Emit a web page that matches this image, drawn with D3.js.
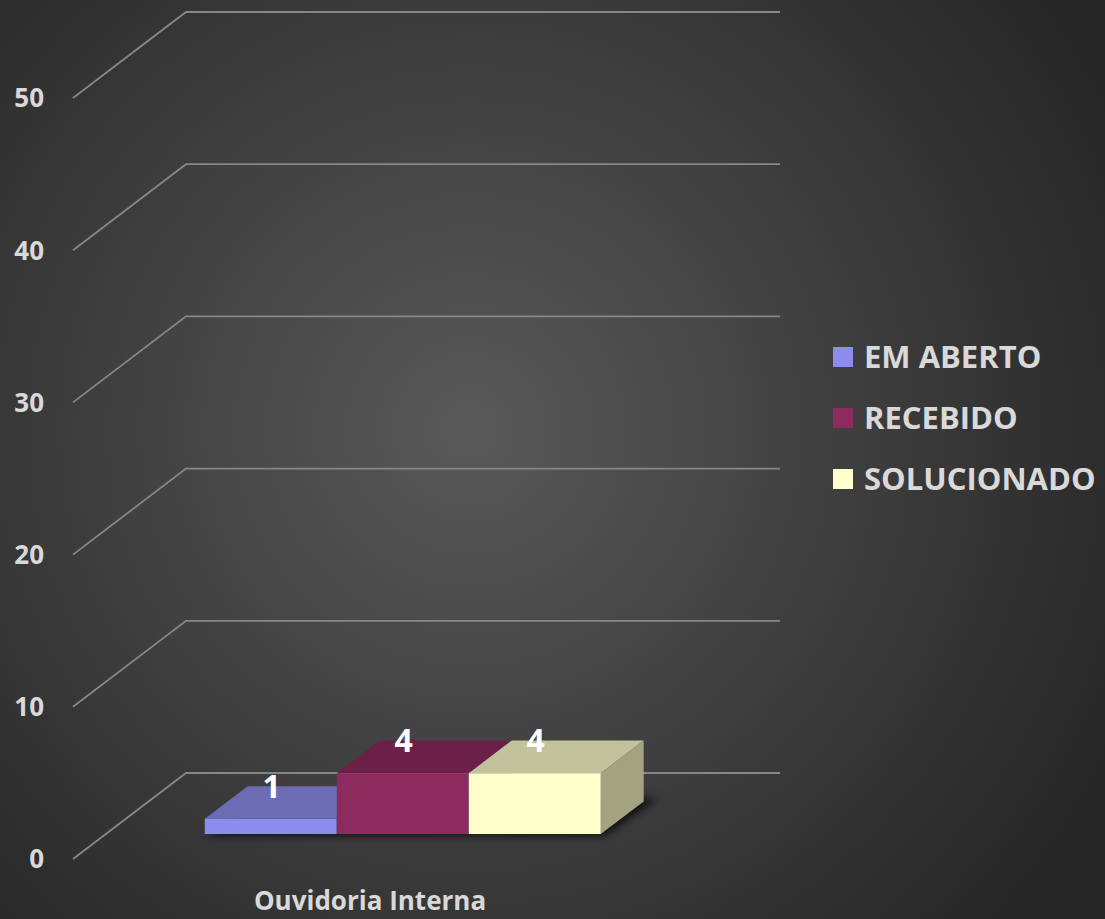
<!DOCTYPE html>
<html><head><meta charset="utf-8">
<script src="https://cdn.jsdelivr.net/npm/d3@7"></script>
<style>html,body{margin:0;padding:0;background:#333;}svg{display:block;}</style>
</head><body>
<svg id="chart" width="1105" height="919"></svg>
<script>
const categories = ["Ouvidoria Interna"];
const seriesNames = ["EM ABERTO", "RECEBIDO", "SOLUCIONADO"];
const seriesValues = [[1], [4], [4]];
const yTicks = [0, 10, 20, 30, 40, 50];
const seriesColors = [
  {front:"#8c8cee", top:"#6c6cb4", side:"#6a6aa8"},
  {front:"#8e2b5e", top:"#6c2048", side:"#5e1c40"},
  {front:"#ffffcc", top:"#c2c29c", side:"#a3a382"}
];

const W = 1105, H = 919;
const svg = d3.select("#chart");
const defs = svg.append("defs");
const rg = defs.append("radialGradient").attr("id","bg")
  .attr("gradientUnits","userSpaceOnUse").attr("cx",470).attr("cy",430).attr("r",720);
rg.append("stop").attr("offset","0").attr("stop-color","#595959");
rg.append("stop").attr("offset","1").attr("stop-color","#262626");
svg.append("rect").attr("width",W).attr("height",H).attr("fill","url(#bg)");
const blur = defs.append("filter").attr("id","blur").attr("x","-20%").attr("y","-50%").attr("width","140%").attr("height","200%");
blur.append("feGaussianBlur").attr("stdDeviation",4);

// 3D projection parameters
const depthDX = 113, depthDY = -86;
const plotLeft = 73, plotRight = 667;
const y = d3.scaleLinear().domain([0,50]).range([859,98]);
const x = d3.scaleBand().domain(categories).range([plotLeft, plotRight]).paddingInner(0).paddingOuter(0.25);
const xs = d3.scaleBand().domain(seriesNames).range([0, x.bandwidth()]).padding(0);
const P = (px, v, z) => [px + z*depthDX, y(v) + z*depthDY];
const z0 = 0.29, z1 = 0.67;

// gridlines: side wall diagonal + back wall horizontal
const gridColor = "#878787";
yTicks.forEach(t => {
  const a = P(plotLeft, t, 0), b = P(plotLeft, t, 1), c = P(plotRight, t, 1);
  svg.append("polyline").attr("points",[a,b,c].map(p=>p.join(",")).join(" "))
    .attr("fill","none").attr("stroke",gridColor).attr("stroke-width",1.8);
});

// y axis labels
svg.append("g").selectAll("text").data(yTicks).join("text")
  .attr("x",44).attr("y",d=>y(d)).attr("dy","0.36em").attr("text-anchor","end")
  .attr("font-family","Open Sans, sans-serif").attr("font-weight","bold").attr("font-size",26)
  .attr("fill","#d9d9d9").text(d=>d);

// shadow
categories.forEach((cat, ci) => {
  const xl = x(cat), xr = x(cat) + x.bandwidth();
  const pts = [P(xl+4,0,z0-0.02), P(xr+6,0,z0-0.02), P(xr+10,0,z1+0.04), P(xl+10,0,z1+0.04)];
  svg.append("polygon").attr("points", pts.map(p=>p.join(",")).join(" "))
    .attr("fill","#000").attr("opacity",0.75).attr("filter","url(#blur)");
});

// bars
const poly = (pts, fill) => svg.append("polygon").attr("points", pts.map(p=>p.join(",")).join(" ")).attr("fill", fill);
categories.forEach((cat, ci) => {
  seriesNames.forEach((s, si) => {
    const v = seriesValues[si][ci];
    const xl = x(cat) + xs(s), xr = xl + xs.bandwidth();
    const col = seriesColors[si];
    poly([P(xl,v,z0), P(xr,v,z0), P(xr,v,z1), P(xl,v,z1)], col.top);
    poly([P(xr,0,z0), P(xr,v,z0), P(xr,v,z1), P(xr,0,z1)], col.side);
    poly([P(xl,0,z0), P(xr,0,z0), P(xr,v,z0), P(xl,v,z0)], col.front);
  });
});
// value labels
categories.forEach((cat, ci) => {
  seriesNames.forEach((s, si) => {
    const v = seriesValues[si][ci];
    const xc = x(cat) + xs(s) + xs.bandwidth()/2;
    const lp = [P(xc,v,z0)[0] + 1, P(xc,v,z1)[1]];
    svg.append("text").attr("x",lp[0]).attr("y",lp[1]).attr("dy","0.36em").attr("text-anchor","middle")
      .attr("font-family","Open Sans, sans-serif").attr("font-weight","bold").attr("font-size",32)
      .attr("fill","#ffffff").text(v);
  });
});

// category label
svg.append("g").selectAll("text").data(categories).join("text")
  .attr("x", d => x(d) + x.bandwidth()/2).attr("y", 901).attr("dy","0.36em").attr("text-anchor","middle")
  .attr("font-family","Open Sans, sans-serif").attr("font-weight","bold").attr("font-size",26)
  .attr("fill","#d9d9d9").text(d=>d);

// legend
const lg = svg.append("g").attr("transform","translate(833,357)");
seriesNames.forEach((s, i) => {
  const g = lg.append("g").attr("transform",`translate(0,${i*61})`);
  g.append("rect").attr("x",0).attr("y",-10).attr("width",20).attr("height",20).attr("fill",seriesColors[i].front);
  g.append("text").attr("x",31).attr("y",0).attr("dy","0.36em")
    .attr("font-family","Open Sans, sans-serif").attr("font-weight","bold").attr("font-size",31)
    .attr("fill","#d9d9d9").text(s);
});
</script>
</body></html>
